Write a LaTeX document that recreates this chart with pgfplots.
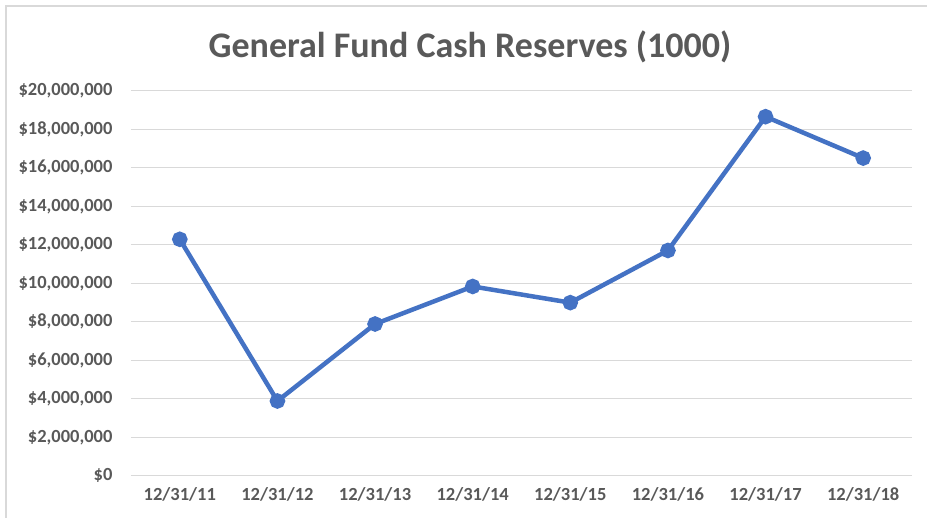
\documentclass[border=0pt]{standalone}
\usepackage{fontspec}
\setmainfont{Carlito}
\usepackage{pgfplots}
\pgfplotsset{compat=1.18}
\definecolor{txtgray}{HTML}{595959}
\definecolor{gridgray}{HTML}{D9D9D9}
\definecolor{xlblue}{HTML}{4472C4}

\begin{document}
\begin{tikzpicture}
\useasboundingbox (0,0) rectangle (927pt,518pt);
\fill[white] (0,0) rectangle (927pt,518pt);
\draw[gridgray, line width=2pt] (5.5pt,0) -- (5.5pt,511.5pt) -- (927pt,511.5pt);

\begin{axis}[
    at={(131pt,42.3pt)}, anchor=south west,
    scale only axis,
    width=781pt, height=385pt,
    xmin=-0.5, xmax=7.5,
    ymin=0, ymax=20000000,
    xtick={0,...,7},
    xticklabels={12/31/11,12/31/12,12/31/13,12/31/14,12/31/15,12/31/16,12/31/17,12/31/18},
    ytick={0,2000000,...,20000000},
    yticklabels={\$0,{\$2,000,000},{\$4,000,000},{\$6,000,000},{\$8,000,000},{\$10,000,000},{\$12,000,000},{\$14,000,000},{\$16,000,000},{\$18,000,000},{\$20,000,000}},
    scaled y ticks=false,
    axis line style={draw=none},
    major tick length=0pt,
    ymajorgrids=true,
    major grid style={gridgray, line width=1.3pt},
    ticklabel style={font=\fontsize{18.5}{21}\selectfont\bfseries, text=txtgray},
    yticklabel style={xshift=-15pt},
    xticklabel style={yshift=-8pt},
    /pgf/number format/assume math mode=true,
    clip=false,
]
\addplot[xlblue, line width=4.5pt, mark=*, mark size=5.5pt, mark options={solid, fill=xlblue, draw=none}]
    coordinates {
    (0,12280000)
    (1,3880000)
    (2,7880000)
    (3,9830000)
    (4,8990000)
    (5,11700000)
    (6,18650000)
    (7,16500000)
    };
\end{axis}

\node[font=\fontsize{36}{40}\selectfont\bfseries, text=txtgray] at (470pt,471pt) {General Fund Cash Reserves (1000)};
\end{tikzpicture}
\end{document}
